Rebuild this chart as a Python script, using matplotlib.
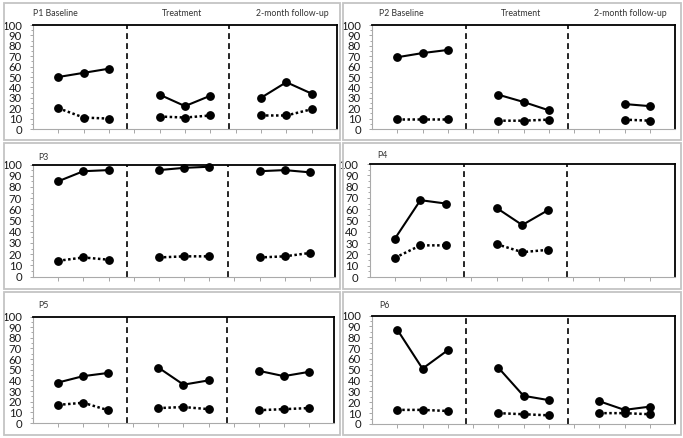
import matplotlib
matplotlib.use("Agg")
import matplotlib.pyplot as plt
from matplotlib.patches import Rectangle
import numpy as np

plt.rcParams['font.family'] = ['Lato', 'DejaVu Sans']

# ---- data ----
baseline_x = [1, 2, 3]
treatment_x = [5, 6, 7]
followup_x = [9, 10, 11]
phase_breaks = [3.73, 7.75]
y_ticks = list(range(0, 101, 10))

p1_solid = [[50, 54, 58], [33, 22, 32], [30, 45, 34]]
p1_dotted = [[20, 11, 10], [12, 11, 13], [13, 13, 19]]
p2_solid = [[69, 73, 76], [33, 26, 18], [None, 24, 22]]
p2_dotted = [[10, 10, 10], [8, 8, 9], [None, 9, 8]]
p3_solid = [[85, 94, 95], [95, 97, 98], [94, 95, 93]]
p3_dotted = [[14, 17, 15], [17, 18, 18], [17, 18, 21]]
p4_solid = [[34, 68, 65], [61, 46, 59], [None, None, None]]
p4_dotted = [[17, 28, 28], [29, 22, 24], [None, None, None]]
p5_solid = [[38, 44, 47], [52, 36, 40], [49, 44, 48]]
p5_dotted = [[17, 19, 12], [14, 15, 13], [12, 13, 14]]
p6_solid = [[87, 51, 68], [52, 26, 22], [21, 13, 16]]
p6_dotted = [[13, 13, 12], [10, 9, 8], [10, 10, 9]]

participants = ["P1", "P2", "P3", "P4", "P5", "P6"]
solid_series = [p1_solid, p2_solid, p3_solid, p4_solid, p5_solid, p6_solid]
dotted_series = [p1_dotted, p2_dotted, p3_dotted, p4_dotted, p5_dotted, p6_dotted]
phase_titles = ["Baseline", "Treatment", "2-month follow-up"]

W, H = 683, 438
fig = plt.figure(figsize=(W / 100, H / 100), dpi=100)

def fx(px):
    return px / W

def fy(py):
    return 1 - py / H

# panel frames (pixels): (left, top, right, bottom)
frames = [
    (3.5, 2.5, 340, 140), (343, 2.5, 681, 140),
    (3.5, 142.5, 340, 288.5), (343, 142.5, 681, 289),
    (3.5, 292, 340, 435), (343, 292, 681, 435),
]
# axes areas (pixels): (left, top(y=100), right, bottom(y=0))
axes_px = [
    (33, 25, 337, 129), (372, 25, 675, 129),
    (33, 164.5, 335, 276.5), (369.5, 164, 675, 277),
    (33, 316.5, 334, 423), (372, 315.5, 675, 424),
]
# label positions (pixels)
label_px = [(33, 13), (379, 13), (38, 157), (377, 155), (38, 306), (379, 305)]

for i in range(6):
    l, t, r, b = frames[i]
    fig.patches.append(Rectangle((fx(l), fy(b)), fx(r - l), (b - t) / H,
                                 transform=fig.transFigure, fill=False,
                                 edgecolor="#c4c4c4", linewidth=1.3))
    al, at, ar, ab = axes_px[i]
    ax = fig.add_axes([fx(al), fy(ab), fx(ar - al), (ab - at) / H])
    ax.set_xlim(0, 12)
    ax.set_ylim(0, 100)
    for phase_x, s, d in zip([baseline_x, treatment_x, followup_x],
                             solid_series[i], dotted_series[i]):
        xs = [x for x, v in zip(phase_x, s) if v is not None]
        vs = [v for v in s if v is not None]
        if vs:
            ax.plot(xs, vs, color="black", lw=1.5, marker="o", ms=5.3,
                    solid_capstyle="round", clip_on=False, zorder=3)
        xd = [x for x, v in zip(phase_x, d) if v is not None]
        vd = [v for v in d if v is not None]
        if vd:
            ax.plot(xd, vd, color="black", lw=1.8, ls=(0, (1, 1.0)), marker="o",
                    ms=5.3, clip_on=False, zorder=3)
    for xb in phase_breaks:
        ax.axvline(xb, color="black", lw=1.2, ls=(0, (3.5, 2.5)), zorder=2)
    ax.set_yticks(y_ticks)
    ax.set_yticks(range(5, 100, 10), minor=True)
    ax.set_xticks(range(1, 12))
    ax.set_xticklabels([])
    ax.tick_params(axis="y", labelsize=8.2, length=2.5, width=0.6, color="#999999",
                   pad=5.5, labelcolor="#1a1a1a")
    ax.tick_params(axis="y", which="minor", length=1.5, width=0.6, color="#999999")
    ax.tick_params(axis="x", length=3, width=0.6, color="#999999")
    for sp in ["top", "right"]:
        ax.spines[sp].set_color("black")
        ax.spines[sp].set_linewidth(1.3)
    for sp in ["left", "bottom"]:
        ax.spines[sp].set_color("#aaaaaa")
        ax.spines[sp].set_linewidth(0.8)
    ax.patch.set_alpha(0)

    lx, ly = label_px[i]
    if i < 2:
        fig.text(fx(lx), fy(ly), f"{participants[i]} {phase_titles[0]}",
                 fontsize=6.3, color="#333333", va="center", ha="left")
        # phase titles centered over phases
        tcx = [al + (ar - al) * 5.9 / 12, al + (ar - al) * 10.25 / 12]
        for name, cx in zip(phase_titles[1:], tcx):
            fig.text(fx(cx), fy(ly), name, fontsize=6.3, color="#333333",
                     va="center", ha="center")
    else:
        fig.text(fx(lx), fy(ly), participants[i], fontsize=6.3, color="#333333",
                 va="center", ha="left")

fig.savefig("out.png", dpi=100)
